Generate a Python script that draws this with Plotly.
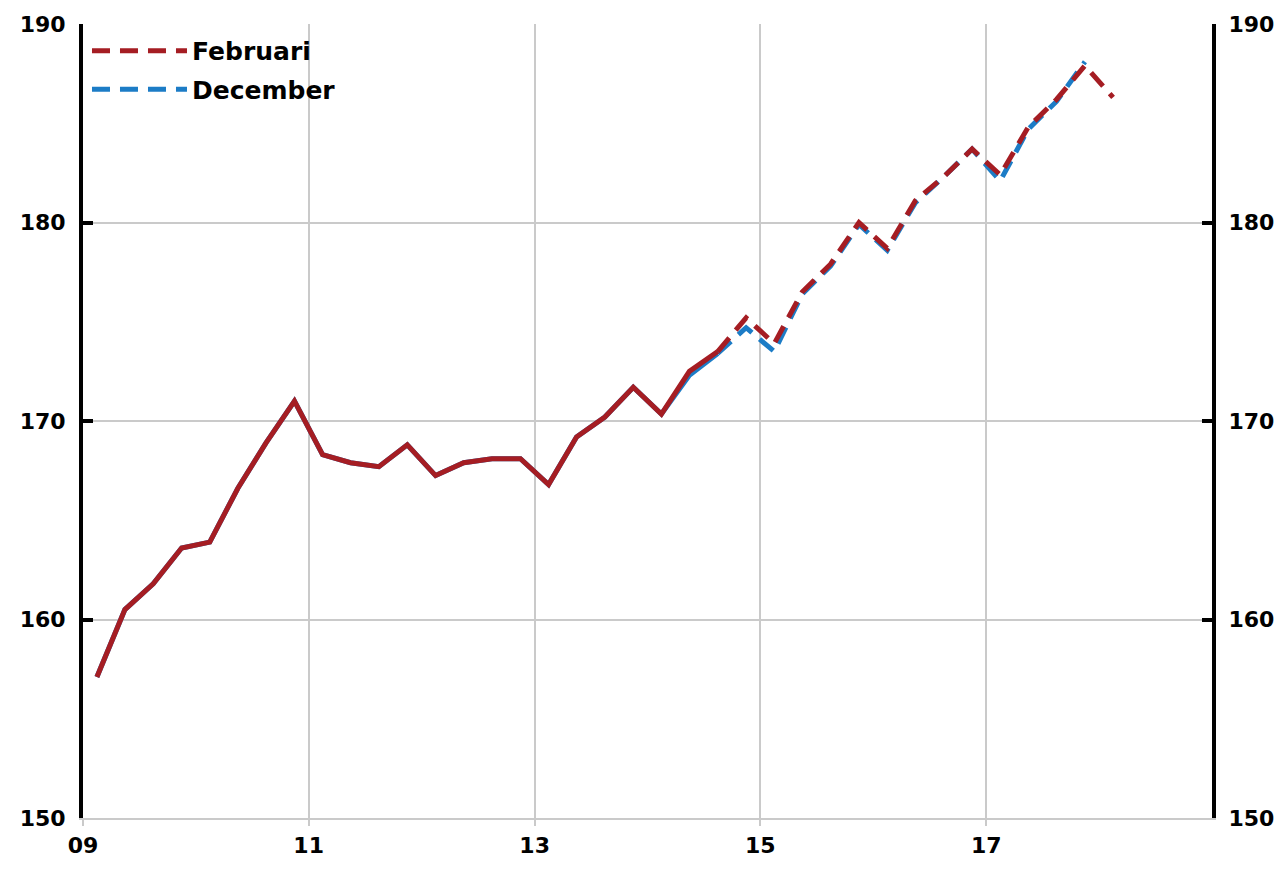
import pandas as pd
import plotly.graph_objects as go

# Quarterly periods (Februari forecast runs one quarter further than December)
quarters = [str(p) for p in pd.period_range("2009Q1", "2018Q1", freq="Q")]

februari = [157.1, 160.5, 161.8, 163.6, 163.9, 166.6, 168.9, 171.0,
            168.3, 167.9, 167.7, 168.8, 167.25, 167.9, 168.1, 168.1,
            166.8, 169.2, 170.2, 171.7, 170.35, 172.5, 173.5, 175.2,
            173.9, 176.5, 177.9, 180.0, 178.7, 181.1, 182.3, 183.7,
            182.4, 184.8, 186.2, 187.9, 186.3]
december = [157.1, 160.5, 161.8, 163.6, 163.9, 166.6, 168.9, 171.0,
            168.3, 167.9, 167.7, 168.8, 167.25, 167.9, 168.1, 168.1,
            166.8, 169.2, 170.2, 171.7, 170.35, 172.3, 173.4, 174.7,
            173.5, 176.4, 177.8, 179.9, 178.6, 181.0, 182.3, 183.7,
            182.1, 184.7, 186.1, 188.1]
hist_end = 22  # index of last point drawn solid (outcome)

x_ticks = ["2009-01-01", "2011-01-01", "2013-01-01", "2015-01-01", "2017-01-01"]
x_labels = ["09", "11", "13", "15", "17"]
y_ticks = [150, 160, 170, 180, 190]

RED = "#A51D23"
BLUE = "#1C7CC6"
GRID = "#CACACA"
FONT = "DejaVu Sans"


def mid(q):
    p = pd.Period(q, freq="Q")
    return p.start_time + (p.end_time - p.start_time) / 2


xd = [mid(q) for q in quarters]

fig = go.Figure()
# December (drawn below)
fig.add_trace(go.Scatter(x=xd[:hist_end + 1], y=december[:hist_end + 1], mode="lines",
                         line=dict(color=BLUE, width=5), showlegend=False,
                         legendgroup="dec", hoverinfo="skip"))
fig.add_trace(go.Scatter(x=xd[hist_end:len(december)], y=december[hist_end:], mode="lines",
                         line=dict(color=BLUE, width=5, dash="18px,10px"),
                         name="December", legendgroup="dec", legendrank=2))
# Februari (drawn on top)
fig.add_trace(go.Scatter(x=xd[:hist_end + 1], y=februari[:hist_end + 1], mode="lines",
                         line=dict(color=RED, width=5), showlegend=False,
                         legendgroup="feb", hoverinfo="skip"))
fig.add_trace(go.Scatter(x=xd[hist_end:], y=februari[hist_end:], mode="lines",
                         line=dict(color=RED, width=5, dash="18px,10px"),
                         name="Februari", legendgroup="feb", legendrank=1))
# invisible trace to carry the right-hand axis
fig.add_trace(go.Scatter(x=xd, y=februari, mode="lines", yaxis="y2",
                         line=dict(width=0, color="rgba(0,0,0,0)"),
                         showlegend=False, hoverinfo="skip"))

fig.update_layout(
    width=1286, height=870,
    margin=dict(l=83, r=71, t=23, b=50),
    paper_bgcolor="white", plot_bgcolor="white",
    font=dict(family=FONT, size=22, color="black"),
    xaxis=dict(
        type="date", range=["2009-01-01", "2019-01-01"],
        tickmode="array", tickvals=x_ticks, ticktext=x_labels,
        tickfont=dict(family=FONT, size=22, color="black", weight="bold"),
        showgrid=True, gridcolor=GRID, gridwidth=2,
        showline=True, linecolor=GRID, linewidth=2,
        ticks="outside", ticklen=6, tickcolor=GRID, tickwidth=2,
        ticklabelstandoff=1, zeroline=False,
    ),
    yaxis=dict(
        range=[150, 190], tickmode="array", tickvals=y_ticks,
        tickfont=dict(family=FONT, size=22, color="black", weight="bold"),
        showgrid=True, gridcolor=GRID, gridwidth=2,
        showline=True, linecolor="black", linewidth=4,
        ticks="inside", ticklen=10, tickwidth=4, tickcolor="black",
        ticklabelstandoff=9, zeroline=False,
    ),
    yaxis2=dict(
        range=[150, 190], tickmode="array", tickvals=y_ticks,
        overlaying="y", side="right",
        tickfont=dict(family=FONT, size=22, color="black", weight="bold"),
        showgrid=False,
        showline=True, linecolor="black", linewidth=4,
        ticks="inside", ticklen=10, tickwidth=4, tickcolor="black",
        ticklabelstandoff=8, zeroline=False,
    ),
    legend=dict(
        x=4 / 1132, y=1 - 4 / 797, xanchor="left", yanchor="top",
        bgcolor="rgba(0,0,0,0)", borderwidth=0,
        font=dict(family=FONT, size=25, color="black", weight="bold"),
        itemwidth=95, tracegroupgap=3,
    ),
    showlegend=True,
)

fig.write_html(
    "out.html",
    config={"displayModeBar": False},
    post_script=(
        "document.body.style.margin='0px';"
        "document.body.style.overflow='hidden';"
        "document.documentElement.style.overflow='hidden';"
    ),
)
